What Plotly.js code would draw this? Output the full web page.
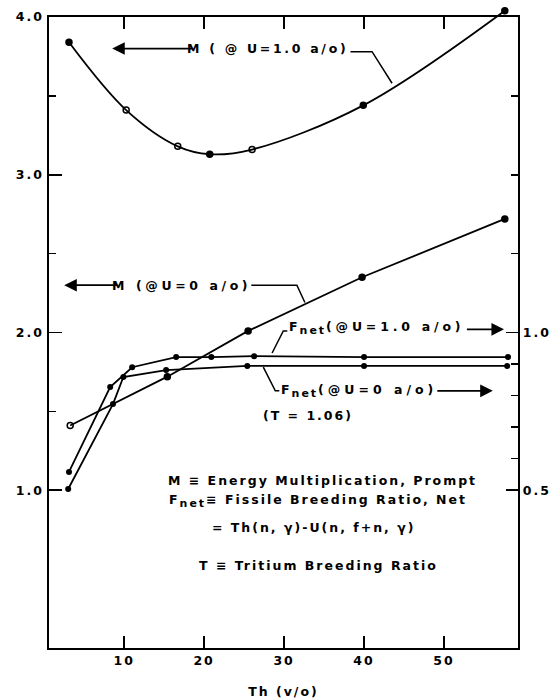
<!DOCTYPE html>
<html>
<head>
<meta charset="utf-8">
<script src="https://cdn.plot.ly/plotly-3.0.1.min.js"></script>
<style>
  body { margin: 0; background: #fff; }
  svg text { letter-spacing: 2px; }
</style>
</head>
<body>
<div id="chart" style="width:554px;height:700px;"></div>
<script>
// ---- data ----
const thM_U1 = [3.1, 10.25, 16.7, 20.7, 26.0, 39.9, 57.6];
const M_U1   = [3.84, 3.41, 3.18, 3.13, 3.16, 3.44, 4.04];
const symM_U1 = ['circle', 'circle-open', 'circle-open', 'circle', 'circle-open', 'circle', 'circle'];

const thM_U0 = [3.25, 15.4, 25.5, 39.75, 57.6];
const M_U0   = [1.41, 1.72, 2.01, 2.35, 2.72];
const symM_U0 = ['circle-open', 'circle', 'circle', 'circle', 'circle'];

const thF_U1 = [3.1, 8.25, 11.0, 16.5, 20.9, 26.25, 40.0, 58.0];
const F_U1   = [0.558, 0.827, 0.89, 0.922, 0.922, 0.925, 0.922, 0.922];

const thF_U0 = [3.0, 8.6, 9.9, 15.25, 25.4, 40.0, 57.9];
const F_U0   = [0.504, 0.773, 0.859, 0.881, 0.894, 0.894, 0.894];

const leftTicks  = [1, 2, 3, 4];
const leftLabels = ['1.0', '2.0', '3.0', '4.0'];
const leftMinor  = [1.5, 2.5, 3.5];
const rightTicks  = [0.5, 1.0];
const rightLabels = ['0.5', '1.0'];
const rightMinor  = [0.6, 0.7, 0.8, 0.9, 1.25, 1.5, 1.75];
const xTicks = [10, 20, 30, 40, 50];

const FONT = 'DejaVu Sans, sans-serif';
const lineStyle = {color: '#000', width: 1.8};

// plot area: 8px..648px tall; visible frame top (y=4.0) at 17px
const PLOT_H = 640, FRAME_H = 631;
const Y_TOP = 4.0, Y3_TOP = Y_TOP * PLOT_H / FRAME_H;

const traces = [
  {x: thM_U1, y: M_U1, yaxis: 'y3', mode: 'lines+markers', line: Object.assign({shape: 'spline', smoothing: 1}, lineStyle),
   marker: {symbol: symM_U1, size: 6, color: '#000', line: {color: '#000', width: 1.5}}, cliponaxis: false},
  {x: thM_U0, y: M_U0, mode: 'lines+markers', line: lineStyle,
   marker: {symbol: symM_U0, size: 6, color: '#000', line: {color: '#000', width: 1.5}}, cliponaxis: false},
  {x: thF_U1, y: F_U1, yaxis: 'y2', mode: 'lines+markers', line: lineStyle,
   marker: {symbol: 'circle', size: 6, color: '#000'}, cliponaxis: false},
  {x: thF_U0, y: F_U0, yaxis: 'y2', mode: 'lines+markers', line: lineStyle,
   marker: {symbol: 'circle', size: 6, color: '#000'}, cliponaxis: false}
];

const wide = (s, px) => '<span style="letter-spacing:' + px + 'px">' + s + '</span>';
const fsub = '<sub><span style="font-size:11px">net</span></sub>';

const txt = (x, y, text, anchor) => ({x, y, xref: 'x', yref: 'y', text, showarrow: false,
  xanchor: anchor || 'left', yanchor: 'middle', font: {family: FONT, size: 12.5, color: '#000', weight: 'bold'}});
const arrow = (x, y, ax, ay) => ({x, y, ax, ay, xref: 'x', yref: 'y', axref: 'x', ayref: 'y', text: '',
  font: {size: 1}, borderpad: 0, showarrow: true, arrowhead: 2, arrowsize: 1.4, arrowwidth: 1.8, arrowcolor: '#000'});

const annotations = [
  txt(17.6, 3.80, wide('M ( @ U=1.0 a/o)', 2.7)),
  arrow(8.5, 3.80, 18.6, 3.80),
  txt(8.25, 2.30, wide('M (@U=0 a/o)', 3.6)),
  arrow(2.5, 2.30, 9.2, 2.30),
  txt(30.4, 2.03, 'F' + fsub + wide('(@U=1.0 a/o)', 3.8)),
  arrow(57.5, 2.02, 52.8, 2.02),
  txt(29.4, 1.63, 'F' + fsub + wide('(@U=0 a/o)', 4.0)),
  arrow(56.1, 1.63, 49.1, 1.63),
  txt(33.0, 1.475, '(T = 1.06)', 'center'),
  txt(15.25, 1.063, 'M ≡ Energy Multiplication, Prompt'),
  txt(15.4, 0.93, 'F' + fsub + '≡ Fissile Breeding Ratio, Net'),
  txt(20.75, 0.766, '= Th(n, γ)-U(n, f+n, γ)'),
  txt(19.1, 0.525, 'T ≡ Tritium Breeding Ratio')
];

const leader = p => ({type: 'path', xref: 'x', yref: 'y', path: p, line: {color: '#000', width: 1.5}});
const shapes = [
  leader('M 38.3,3.78 L 41.0,3.78 L 43.5,3.58'),
  leader('M 25.9,2.30 L 31.6,2.30 L 32.6,2.19'),
  leader('M 30.4,2.01 L 29.9,2.01 L 28.5,1.87'),
  leader('M 27.4,1.78 L 28.9,1.63 L 29.4,1.63')
];

const tickFont = {family: FONT, size: 12.5, color: '#000', weight: 'bold'};
const yDomTop = FRAME_H / PLOT_H;

const layout = {
  width: 554, height: 700,
  margin: {l: 49, r: 36, t: 8, b: 52},
  paper_bgcolor: '#fff', plot_bgcolor: 'rgba(0,0,0,0)',
  showlegend: false,
  font: {family: FONT, size: 12, color: '#000'},
  xaxis: {
    range: [0.6, 59.25], tickvals: xTicks, ticks: 'inside', ticklen: 12, tickwidth: 1.8, tickcolor: '#000',
    showline: true, linecolor: '#000', linewidth: 2.2, mirror: 'ticks', showgrid: false, zeroline: false,
    tickfont: tickFont, anchor: 'y',
    title: {text: 'Th (v/o)', font: {family: FONT, size: 12.5, color: '#000', weight: 'bold'}, standoff: 20}
  },
  yaxis: {
    domain: [0, yDomTop],
    range: [0, Y_TOP], tickvals: leftTicks, ticktext: leftLabels, ticks: 'inside', ticklen: 13, tickwidth: 1.8,
    tickcolor: '#000', showline: true, linecolor: '#000', linewidth: 2.5, showgrid: false, zeroline: false,
    tickfont: tickFont,
    minor: {tickvals: leftMinor, ticks: 'inside', ticklen: 7, tickwidth: 1.5, tickcolor: '#000', showgrid: false}
  },
  yaxis2: {
    range: [0, Y_TOP / 2], overlaying: 'y', side: 'right', tickvals: rightTicks, ticktext: rightLabels,
    ticks: 'inside', ticklen: 12, tickwidth: 1.8, tickcolor: '#000', showline: true, linecolor: '#000',
    linewidth: 2.2, showgrid: false, zeroline: false, tickfont: tickFont, anchor: 'x',
    minor: {tickvals: rightMinor, ticks: 'inside', ticklen: 7, tickwidth: 1.5, tickcolor: '#000', showgrid: false}
  },
  yaxis3: {
    domain: [0, 1], range: [0, Y3_TOP], anchor: 'x', visible: false, showgrid: false, zeroline: false
  },
  annotations, shapes
};

Plotly.newPlot('chart', traces, layout, {staticPlot: true, displayModeBar: false});
</script>
</body>
</html>
